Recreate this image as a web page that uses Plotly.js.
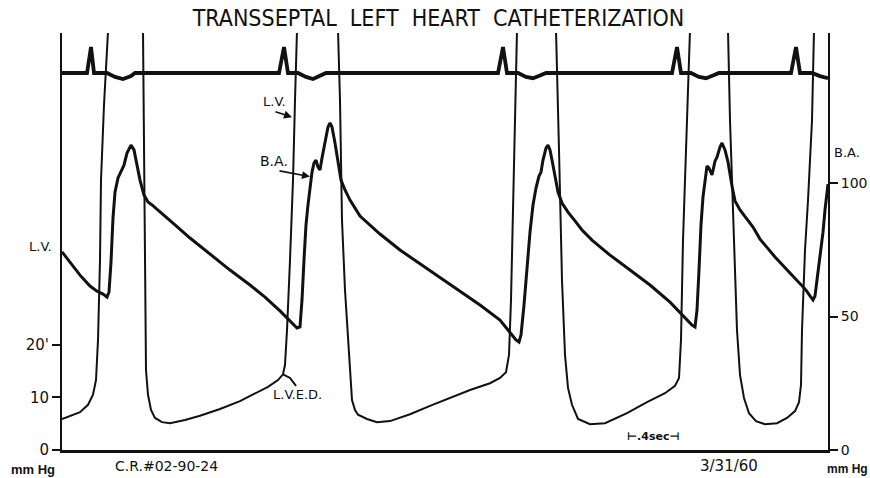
<!DOCTYPE html>
<html>
<head>
<meta charset="utf-8">
<script src="https://cdn.plot.ly/plotly-3.0.1.min.js"></script>
<style>html,body{margin:0;padding:0;background:#fff;}#chart{width:870px;height:478px;}</style>
</head>
<body>
<div id="chart"></div>
<script>
// Time (seconds) and left-ventricular pressure (mm Hg, left scale)
const lvTime = [0,0.064,0.144,0.208,0.248,0.272,0.288,0.304,0.312,0.336,0.36,0.504,0.648,0.656,0.664,0.672,0.688,0.712,0.744,0.8,0.864,0.984,1.104,1.264,1.424,1.544,1.648,1.728,1.768,1.784,1.8,1.824,1.848,1.864,1.88,2.04,2.208,2.224,2.24,2.264,2.288,2.304,2.32,2.344,2.368,2.44,2.52,2.624,2.784,2.944,3.104,3.264,3.424,3.504,3.552,3.576,3.592,3.608,3.624,3.64,3.8,3.952,3.976,4.0,4.024,4.048,4.08,4.128,4.224,4.344,4.52,4.68,4.824,4.904,4.936,4.952,4.968,4.984,5.0,5.024,5.176,5.328,5.344,5.376,5.4,5.424,5.456,5.496,5.552,5.624,5.72,5.8,5.864,5.896,5.912,5.92,5.944,5.968,6.0,6.016,6.064];
const lvPressure = [5.9,6.5,7.2,8.6,10.5,13.3,20.9,36.1,51.3,65.6,79.8,139,79.8,51.3,28.5,15.2,10.5,7.6,6.1,5.3,5.1,5.7,6.5,7.8,9.3,10.8,12.0,13.3,14.4,16.2,22.8,36.1,51.3,66.5,79.8,139,79.8,66.5,43.7,30.4,20.9,14.3,9.5,7.6,6.7,5.9,5.3,5.5,6.8,8.4,9.9,11.4,12.7,13.7,14.8,18.1,28.5,43.7,62.8,79.8,139,79.8,57.1,32.3,18.1,11.8,8.6,5.9,4.9,5.1,7.0,9.1,10.8,12.2,13.7,20.9,39.9,53.2,62.7,79.8,139,79.8,62.7,39.9,22.8,14.3,9.9,7.0,5.5,4.9,5.1,6.1,7.4,9.1,12.4,22.8,38.0,47.5,62.7,79.8,114];

// Brachial artery pressure (mm Hg, right scale)
const baTime = [0,0.064,0.144,0.224,0.28,0.328,0.36,0.376,0.392,0.408,0.424,0.448,0.472,0.496,0.52,0.552,0.576,0.6,0.624,0.656,0.688,0.72,0.784,0.904,1.024,1.184,1.344,1.504,1.624,1.744,1.824,1.88,1.904,1.92,1.936,1.952,1.968,1.984,2.0,2.016,2.032,2.048,2.064,2.08,2.104,2.128,2.144,2.16,2.184,2.208,2.232,2.264,2.304,2.384,2.544,2.704,2.864,3.024,3.184,3.344,3.504,3.584,3.632,3.656,3.672,3.696,3.72,3.744,3.768,3.792,3.816,3.832,3.848,3.872,3.888,3.904,3.92,3.944,3.968,4.0,4.048,4.104,4.16,4.24,4.384,4.544,4.704,4.864,4.984,5.04,5.064,5.08,5.096,5.112,5.128,5.144,5.16,5.176,5.2,5.224,5.24,5.264,5.28,5.304,5.328,5.36,5.384,5.424,5.472,5.528,5.584,5.704,5.824,5.904,5.952,5.984,6.008,6.024,6.04,6.056,6.072,6.088,6.104,6.12,6.128];
const baPressure = [74.2,70.4,65.5,61.4,59.5,58.4,57.3,59.2,70.4,86.9,96.6,101.9,104.5,106.7,111.2,114.2,112.4,107.1,101.1,95.5,92.9,91.8,89.1,84.3,79.4,73.4,67.4,61.8,57.3,52.1,48.3,45.7,46.1,56.2,71.2,84.3,91.8,99.2,104.1,107.5,108.6,106.0,104.9,109.4,115.3,121.0,122.5,121.0,115.0,107.5,101.1,97.4,93.6,87.6,80.9,74.9,69.7,64.8,59.5,54.3,48.7,43.8,41.2,40.4,43.1,54.3,69.3,81.6,91.8,98.1,102.6,104.1,108.6,113.1,114.2,112.4,108.6,102.2,96.6,92.5,89.1,85.8,82.4,78.6,73.0,67.4,61.8,55.4,49.4,46.8,46.1,52.4,67.4,84.3,94.8,101.9,106.4,105.6,103.0,108.2,109.7,113.5,115.0,112.4,107.9,98.9,93.3,89.9,86.9,83.5,79.0,72.3,66.3,62.5,59.9,57.7,56.2,57.7,63.7,70.4,76.8,81.6,89.9,97.4,99.6];

// ECG (mV, arbitrary trace at the top)
const ecgTime = [0,0.2,0.232,0.256,0.36,0.424,0.488,0.552,0.584,1.736,1.776,1.808,1.888,1.952,2.008,2.064,2.112,3.488,3.528,3.56,3.648,3.712,3.768,3.824,3.872,4.88,4.92,4.952,5.032,5.096,5.152,5.208,5.256,5.832,5.872,5.904,6.0,6.064,6.128];
const ecgVolts = [0,0,1.0,0,0,-0.15,-0.23,-0.12,0,0,1.0,0,0,-0.15,-0.23,-0.12,0,0,1.0,0,0,-0.15,-0.2,-0.1,0,0,1.0,0,0,-0.15,-0.2,-0.1,0,0,1.0,0,0,-0.12,-0.2];

// LVED marker
const lvedTime = [1.768,1.824,1.872];
const lvedPressure = [14.4,13.7,12.2];

// Axis ticks
const lvTicks = [0,10,20];
const lvTickText = ["0","10","20'"];
const baTicks = [0,50,100];
const baTickText = ["0","50","100"];

const ink = '#111';
const traces = [
  {x: ecgTime, y: ecgVolts, yaxis: 'y3', mode: 'lines', line: {color: ink, width: 3.8}, hoverinfo: 'skip', showlegend: false},
  {x: lvTime, y: lvPressure, yaxis: 'y', mode: 'lines', line: {color: ink, width: 2}, hoverinfo: 'skip', showlegend: false},
  {x: lvedTime, y: lvedPressure, yaxis: 'y', mode: 'lines', line: {color: ink, width: 2}, hoverinfo: 'skip', showlegend: false},
  {x: baTime, y: baPressure, yaxis: 'y2', mode: 'lines', line: {color: ink, width: 3}, hoverinfo: 'skip', showlegend: false}
];

const txtFont = {family: 'DejaVu Sans, Liberation Sans, sans-serif', size: 13, color: ink};
function note(text, x, y, xref, yref, size, extra) {
  return Object.assign({text: text, x: x, y: y, xref: xref, yref: yref, showarrow: false,
    xanchor: 'center', yanchor: 'middle', font: Object.assign({}, txtFont, {size: size})}, extra || {});
}
function arrow(x, y, ax, ay) {
  return {text: '', x: x, y: y, xref: 'x', yref: 'y', ax: ax, ay: ay, axref: 'pixel', ayref: 'pixel',
    showarrow: true, arrowhead: 2, arrowsize: 1, arrowwidth: 1.6, arrowcolor: ink, standoff: 0, startstandoff: 0};
}
const boldFont = {family: 'Liberation Sans, Arial, sans-serif', color: ink};

const layout = {
  width: 870, height: 478,
  margin: {l: 62, r: 42, t: 33, b: 28, pad: 0},
  paper_bgcolor: '#fff', plot_bgcolor: '#fff',
  title: {text: 'TRANSSEPTAL  LEFT  HEART  CATHETERIZATION', x: 0.504, y: 0.963, xref: 'container', yref: 'container',
    xanchor: 'center', yanchor: 'middle',
    font: {family: 'DejaVu Sans Condensed, Liberation Sans Narrow, Liberation Sans, sans-serif', size: 23, color: ink}},
  xaxis: {range: [0, 6.128], showgrid: false, zeroline: false, showline: true, linewidth: 3, linecolor: ink,
    showticklabels: false, ticks: '', fixedrange: true},
  yaxis: {range: [0, 79.3], tickvals: lvTicks, ticktext: lvTickText, ticks: 'outside', ticklen: 8, tickwidth: 2,
    tickcolor: ink, showline: true, linewidth: 2, linecolor: ink, showgrid: false, zeroline: false,
    tickfont: {family: 'DejaVu Sans, sans-serif', size: 15, color: ink}},
  yaxis2: {range: [0, 156.2], overlaying: 'y', side: 'right', tickvals: baTicks, ticktext: baTickText,
    ticks: 'outside', ticklen: 8, tickwidth: 2, tickcolor: ink, showline: true, linewidth: 2, linecolor: ink,
    showgrid: false, zeroline: false, tickfont: {family: 'DejaVu Sans, sans-serif', size: 14, color: ink}},
  yaxis3: {range: [-14.5, 1.538], overlaying: 'y', visible: false},
  annotations: [
    note('L.V.', -0.0287, 0.489, 'paper', 'paper', 13),
    note('B.A.', 1.005, 0.7146, 'paper', 'paper', 13, {xanchor: 'left'}),
    note('<b>mm Hg</b>', -0.038, -0.0456, 'paper', 'paper', 13, {font: Object.assign({size: 13}, boldFont)}),
    note('<b>mm Hg</b>', 1.026, -0.0456, 'paper', 'paper', 12, {font: Object.assign({size: 12}, boldFont)}),
    note('C.R.#02-90-24', 0.1358, -0.0384, 'paper', 'paper', 14),
    note('3/31/60', 0.8708, -0.0384, 'paper', 'paper', 15),
    note('L.V.', 1.696, 66.2, 'x', 'y', 13),
    note('B.A.', 1.696, 54.9, 'x', 'y', 14),
    note('L.V.E.D.', 1.88, 10.5, 'x', 'y', 13),
    note('<b>⊢.4sec⊣</b>', 4.728, 2.6, 'x', 'y', 11),
    arrow(1.84, 63.3, -18, -6),
    arrow(1.984, 52.0, -32, -6)
  ]
};

Plotly.newPlot('chart', traces, layout, {staticPlot: true, displayModeBar: false});
</script>
</body>
</html>
